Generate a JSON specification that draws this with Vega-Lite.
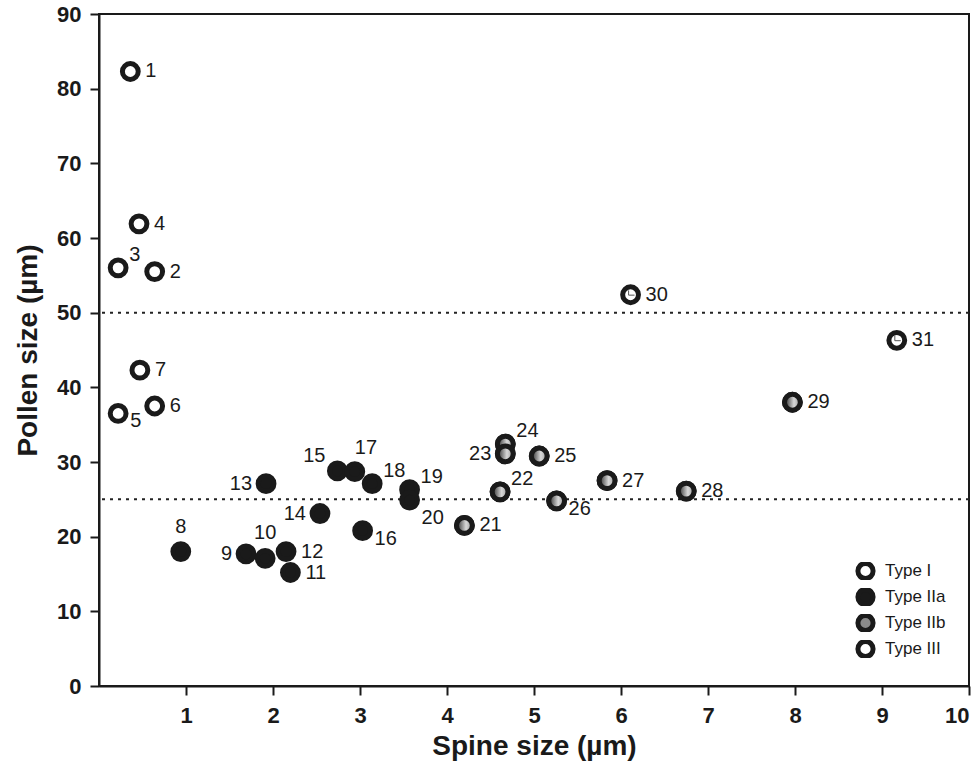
{
  "$schema": "https://vega.github.io/schema/vega-lite/v6.json",
  "autosize": "none",
  "padding": {"left": 99, "top": 14, "right": 2, "bottom": 87},
  "width": 870,
  "height": 672,
  "background": "white",
  "config": {
    "view": {"stroke": "#1a1a1a", "strokeWidth": 2},
    "font": "Liberation Sans",
    "axis": {"grid": false, "domainColor": "#1a1a1a", "domainWidth": 2, "tickColor": "#1a1a1a", "tickWidth": 2, "tickSize": 9, "labelFont": "Liberation Sans", "labelFontWeight": "bold", "labelFontSize": 22, "labelColor": "#1a1a1a", "titleFont": "Liberation Sans", "titleFontWeight": "bold", "titleFontSize": 28, "titleColor": "#1a1a1a"}
  },
  "data": {"values": [
    {"id": 1, "spine": 0.36, "pollen": 82.3, "type": "Type I"},
    {"id": 2, "spine": 0.64, "pollen": 55.5, "type": "Type I"},
    {"id": 3, "spine": 0.22, "pollen": 56.0, "type": "Type I"},
    {"id": 4, "spine": 0.46, "pollen": 61.9, "type": "Type I"},
    {"id": 5, "spine": 0.22, "pollen": 36.5, "type": "Type I"},
    {"id": 6, "spine": 0.64, "pollen": 37.5, "type": "Type I"},
    {"id": 7, "spine": 0.47, "pollen": 42.3, "type": "Type I"},
    {"id": 8, "spine": 0.94, "pollen": 18.0, "type": "Type IIa"},
    {"id": 9, "spine": 1.69, "pollen": 17.7, "type": "Type IIa"},
    {"id": 10, "spine": 1.91, "pollen": 17.1, "type": "Type IIa"},
    {"id": 11, "spine": 2.2, "pollen": 15.2, "type": "Type IIa"},
    {"id": 12, "spine": 2.15, "pollen": 18.0, "type": "Type IIa"},
    {"id": 13, "spine": 1.92, "pollen": 27.1, "type": "Type IIa"},
    {"id": 14, "spine": 2.54, "pollen": 23.1, "type": "Type IIa"},
    {"id": 15, "spine": 2.74, "pollen": 28.8, "type": "Type IIa"},
    {"id": 16, "spine": 3.03, "pollen": 20.8, "type": "Type IIa"},
    {"id": 17, "spine": 2.94, "pollen": 28.7, "type": "Type IIa"},
    {"id": 18, "spine": 3.14, "pollen": 27.1, "type": "Type IIa"},
    {"id": 19, "spine": 3.57, "pollen": 26.3, "type": "Type IIa"},
    {"id": 20, "spine": 3.57, "pollen": 24.9, "type": "Type IIa"},
    {"id": 21, "spine": 4.2, "pollen": 21.5, "type": "Type IIb"},
    {"id": 22, "spine": 4.61, "pollen": 26.0, "type": "Type IIb"},
    {"id": 24, "spine": 4.67, "pollen": 32.4, "type": "Type IIb"},
    {"id": 23, "spine": 4.67, "pollen": 31.1, "type": "Type IIb"},
    {"id": 25, "spine": 5.06, "pollen": 30.8, "type": "Type IIb"},
    {"id": 26, "spine": 5.26, "pollen": 24.8, "type": "Type IIb"},
    {"id": 27, "spine": 5.84, "pollen": 27.5, "type": "Type IIb"},
    {"id": 28, "spine": 6.75, "pollen": 26.1, "type": "Type IIb"},
    {"id": 29, "spine": 7.97, "pollen": 38.0, "type": "Type IIb"},
    {"id": 30, "spine": 6.11, "pollen": 52.4, "type": "Type III"},
    {"id": 31, "spine": 9.17, "pollen": 46.3, "type": "Type III"}
  ]},
  "encoding": {
    "x": {"field": "spine", "type": "quantitative", "scale": {"domain": [0, 10], "nice": false, "zero": false}, "axis": {"values": [1, 2, 3, 4, 5, 6, 7, 8, 9, 10], "labelPadding": 10, "titlePadding": 6, "title": "Spine size (µm)"}},
    "y": {"field": "pollen", "type": "quantitative", "scale": {"domain": [0, 90], "nice": false}, "axis": {"values": [0, 10, 20, 30, 40, 50, 60, 70, 80, 90], "labelPadding": 9, "titlePadding": 14, "title": "Pollen size (µm)"}}
  },
  "layer": [
    {
      "data": {"values": [{"level": 25}, {"level": 50}]},
      "mark": {"type": "rule", "stroke": "#222222", "strokeWidth": 2, "strokeDash": [3, 5]},
      "encoding": {"x": null, "y": {"field": "level", "type": "quantitative"}}
    },
    {
      "mark": {"type": "point", "shape": "circle", "filled": true, "stroke": "#1a1a1a", "strokeWidth": 5, "size": 250, "opacity": 1},
      "encoding": {
        "fill": {"field": "type", "type": "nominal",
          "scale": {"domain": ["Type I", "Type IIa", "Type IIb", "Type III"], "range": ["#ffffff", "#1a1a1a", "#8a8a8a", "#ffffff"]},
          "legend": {"orient": "none", "legendX": 756, "legendY": 548, "title": null, "labelFont": "Liberation Sans", "labelFontSize": 17, "labelColor": "#1a1a1a", "symbolSize": 230, "symbolStrokeWidth": 5, "symbolStrokeColor": "#1a1a1a", "symbolType": "circle", "rowPadding": 8, "clipHeight": 18, "labelOffset": 9}}
      }
    },
    {
      "transform": [{"filter": "datum.type == 'Type IIb'"}],
      "mark": {"type": "point", "shape": "circle", "filled": true, "stroke": "#1a1a1a", "strokeWidth": 5, "size": 250, "opacity": 1,
        "fill": {"gradient": "linear", "x1": 0, "y1": 0.5, "x2": 1, "y2": 0.5, "stops": [{"offset": 0, "color": "#262626"}, {"offset": 0.6, "color": "#d8d8d8"}, {"offset": 1, "color": "#9a9a9a"}]}},
      "encoding": {}
    },
    {
      "transform": [{"filter": "datum.type == 'Type III'"}],
      "mark": {"type": "point", "shape": "M-0.25,-0.55L-0.25,0.05L0.5,0.05", "filled": false, "stroke": "#555555", "strokeWidth": 1, "size": 250, "opacity": 1},
      "encoding": {}
    },
    {
      "transform": [{"filter": {"field": "id", "oneOf": [1,2,4,6,7,11,12,21,25,27,28,29,30,31]}}],
      "mark": {"type": "text", "align": "left", "baseline": "middle", "dx": 15, "fontSize": 20, "font": "Liberation Sans", "color": "#1a1a1a"},
      "encoding": {"text": {"field": "id"}}
    },
    {
      "transform": [{"filter": {"field": "id", "oneOf": [3,18,19,22,24]}}],
      "mark": {"type": "text", "align": "left", "baseline": "middle", "dx": 11, "dy": -13, "fontSize": 20, "font": "Liberation Sans", "color": "#1a1a1a"},
      "encoding": {"text": {"field": "id"}}
    },
    {
      "transform": [{"filter": "datum.id == 17"}],
      "mark": {"type": "text", "align": "left", "baseline": "middle", "dx": 0, "dy": -24, "fontSize": 20, "font": "Liberation Sans", "color": "#1a1a1a"},
      "encoding": {"text": {"field": "id"}}
    },
    {
      "transform": [{"filter": {"field": "id", "oneOf": [5,16,26]}}],
      "mark": {"type": "text", "align": "left", "baseline": "middle", "dx": 12, "dy": 8, "fontSize": 20, "font": "Liberation Sans", "color": "#1a1a1a"},
      "encoding": {"text": {"field": "id"}}
    },
    {
      "transform": [{"filter": "datum.id == 20"}],
      "mark": {"type": "text", "align": "left", "baseline": "middle", "dx": 12, "dy": 18, "fontSize": 20, "font": "Liberation Sans", "color": "#1a1a1a"},
      "encoding": {"text": {"field": "id"}}
    },
    {
      "transform": [{"filter": {"field": "id", "oneOf": [9,13,14,23]}}],
      "mark": {"type": "text", "align": "right", "baseline": "middle", "dx": -14, "fontSize": 20, "font": "Liberation Sans", "color": "#1a1a1a"},
      "encoding": {"text": {"field": "id"}}
    },
    {
      "transform": [{"filter": "datum.id == 15"}],
      "mark": {"type": "text", "align": "right", "baseline": "middle", "dx": -12, "dy": -15, "fontSize": 20, "font": "Liberation Sans", "color": "#1a1a1a"},
      "encoding": {"text": {"field": "id"}}
    },
    {
      "transform": [{"filter": {"field": "id", "oneOf": [8,10]}}],
      "mark": {"type": "text", "align": "center", "baseline": "middle", "dy": -25, "fontSize": 20, "font": "Liberation Sans", "color": "#1a1a1a"},
      "encoding": {"text": {"field": "id"}}
    }
  ]
}
